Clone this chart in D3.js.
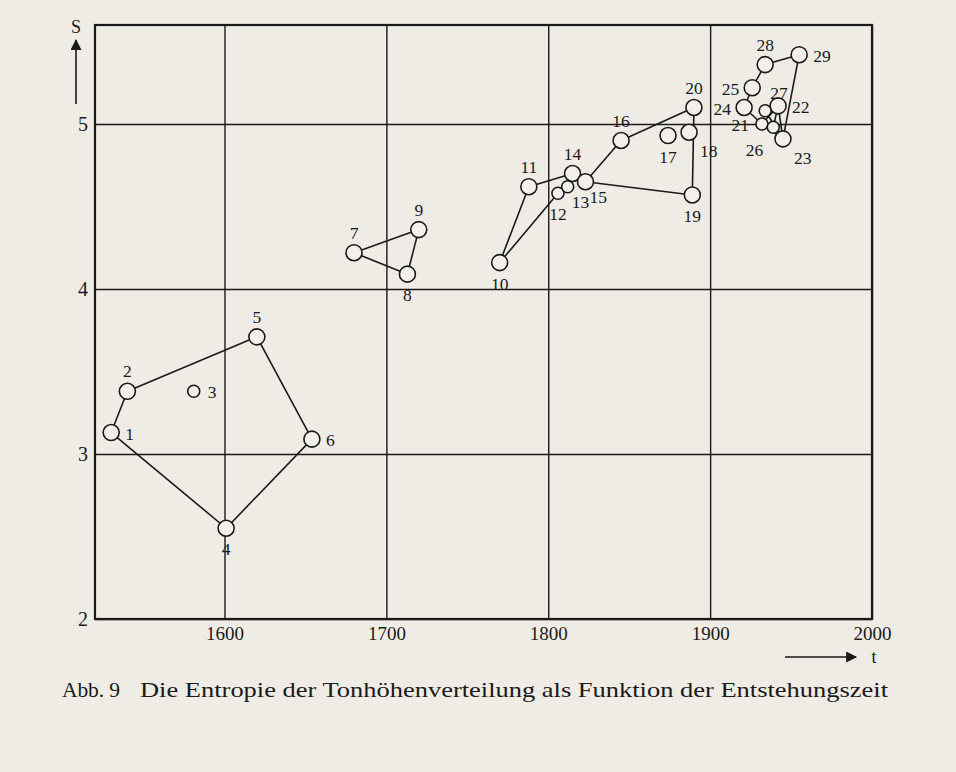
<!DOCTYPE html>
<html><head><meta charset="utf-8">
<script src="https://cdn.jsdelivr.net/npm/d3@7"></script>
<style>
html,body{margin:0;padding:0;background:#efebe5;}
svg{display:block;}
text{font-family:"Liberation Serif","DejaVu Serif",serif;fill:#1a1a1a;}
</style></head>
<body><svg id="c" width="956" height="772"></svg>
<script>
// ---- data ----
const ids      = [1,2,3,4,5,6,7,8,9,10,11,12,13,14,15,16,17,18,19,20,21,22,23,24,25,26,27,28,29];
const years    = [1530,1540,1581,1601,1620,1654,1680,1713,1720,1770,1788,1806,1812,1815,1823,1845,1874,1887,1889,1890,1932,1942,1945,1921,1926,1939,1934,1934,1955];
const entropy  = [3.13,3.38,3.38,2.55,3.71,3.09,4.22,4.09,4.36,4.16,4.62,4.58,4.62,4.70,4.65,4.90,4.93,4.95,4.57,5.10,5.00,5.11,4.91,5.10,5.22,4.98,5.08,5.36,5.42];
const small    = [3,12,13,21,26,27];
const labelSide= ["r","t","r","b","t","r","t","b","t","b","t","b","bs","t","bs","t","b","br","b","t","l","r","br","l","l","bl","tr","t","r"];
const edges    = [[1,2],[2,5],[5,6],[6,4],[4,1],
                  [7,9],[9,8],[8,7],
                  [10,11],[11,14],[14,15],[15,16],[16,20],[20,19],[19,15],[14,13],[13,12],[12,10],
                  [24,25],[25,28],[28,29],[29,23],[23,21],[21,24],[21,22],[27,23],[22,26],[22,23]];
const xTicks   = [1600,1700,1800,1900,2000];
const yTicks   = [2,3,4,5];
const captionNo   = "Abb. 9";
const captionText = "Die Entropie der Tonhöhenverteilung als Funktion der Entstehungszeit";

// ---- drawing ----
const svg = d3.select("#c");
const L=95,R=872,T=25,B=619;
const x = d3.scaleLinear().domain([1520,2000]).range([L,R]);
const y = d3.scaleLinear().domain([2,5.6]).range([B,T]);
const ink="#1a1a1a";

// grid
const gx = svg.append("g").attr("transform",`translate(0,${B})`)
  .call(d3.axisBottom(x).tickValues(xTicks).tickSize(-(B-T)).tickFormat(d3.format("d")));
gx.select(".domain").remove();
gx.selectAll("line").attr("stroke",ink).attr("stroke-width",1.4);
gx.selectAll("text").attr("font-size",19).attr("dy","0.95em").attr("font-family","Liberation Serif, serif").attr("fill",ink);

const gy = svg.append("g").attr("transform",`translate(${L},0)`)
  .call(d3.axisLeft(y).tickValues(yTicks).tickSize(-(R-L)).tickFormat(d3.format("d")).tickPadding(7));
gy.select(".domain").remove();
gy.selectAll("line").attr("stroke",ink).attr("stroke-width",1.4);
gy.selectAll("text").attr("font-size",20).attr("font-family","Liberation Serif, serif").attr("fill",ink);

// frame
svg.append("rect").attr("x",L).attr("y",T).attr("width",R-L).attr("height",B-T)
  .attr("fill","none").attr("stroke",ink).attr("stroke-width",2.2);

// axis arrows
svg.append("defs").append("marker").attr("id","ah").attr("viewBox","0 0 10 10")
  .attr("refX",9).attr("refY",5).attr("markerWidth",16).attr("markerHeight",11)
  .attr("markerUnits","userSpaceOnUse").attr("orient","auto")
  .append("path").attr("d","M0,0L10,5L0,10z").attr("fill",ink);
svg.append("line").attr("x1",76).attr("y1",104).attr("x2",76).attr("y2",40)
  .attr("stroke",ink).attr("stroke-width",1.6).attr("marker-end","url(#ah)");
svg.append("text").attr("x",76).attr("y",33).attr("text-anchor","middle").attr("font-size",18).text("S");
svg.append("line").attr("x1",785).attr("y1",657).attr("x2",856).attr("y2",657)
  .attr("stroke",ink).attr("stroke-width",1.6).attr("marker-end","url(#ah)");
svg.append("text").attr("x",874).attr("y",663).attr("text-anchor","middle").attr("font-size",18).text("t");

// points
const pts = ids.map((id,i)=>({id, yr:years[i], s:entropy[i], side:labelSide[i], r: small.includes(id)?6:8}));
const byId = new Map(pts.map(p=>[p.id,p]));

svg.append("g").selectAll("line").data(edges).join("line")
  .attr("x1",d=>x(byId.get(d[0]).yr)).attr("y1",d=>y(byId.get(d[0]).s))
  .attr("x2",d=>x(byId.get(d[1]).yr)).attr("y2",d=>y(byId.get(d[1]).s))
  .attr("stroke",ink).attr("stroke-width",1.6);

svg.append("g").selectAll("circle").data(pts).join("circle")
  .attr("cx",d=>x(d.yr)).attr("cy",d=>y(d.s)).attr("r",d=>d.r)
  .attr("fill","#f3f0eb").attr("stroke",ink).attr("stroke-width",1.6);

const off = {t:[0,-14],b:[0,27],r:[18,7],l:[-17,7],br:[15,25],bs:[8,21],bl:[-14,29],tr:[9,-12]};
const startSides = ["r","br","bs","tr"], endSides = ["l","bl"];
svg.append("g").selectAll("text").data(pts).join("text")
  .attr("x",d=>x(d.yr)+off[d.side][0]).attr("y",d=>y(d.s)+off[d.side][1])
  .attr("text-anchor",d=>startSides.includes(d.side)?"start":(endSides.includes(d.side)?"end":"middle"))
  .attr("dx",d=>startSides.includes(d.side)?-4:(endSides.includes(d.side)?4:0))
  .attr("font-size",17.5).text(d=>d.id);

// caption
svg.append("text").attr("x",62).attr("y",697).attr("font-size",21.5)
  .attr("textLength",58).attr("lengthAdjust","spacing").text(captionNo);
svg.append("text").attr("x",140).attr("y",697).attr("font-size",21.5)
  .attr("textLength",748).attr("lengthAdjust","spacingAndGlyphs").text(captionText);
</script></body></html>
